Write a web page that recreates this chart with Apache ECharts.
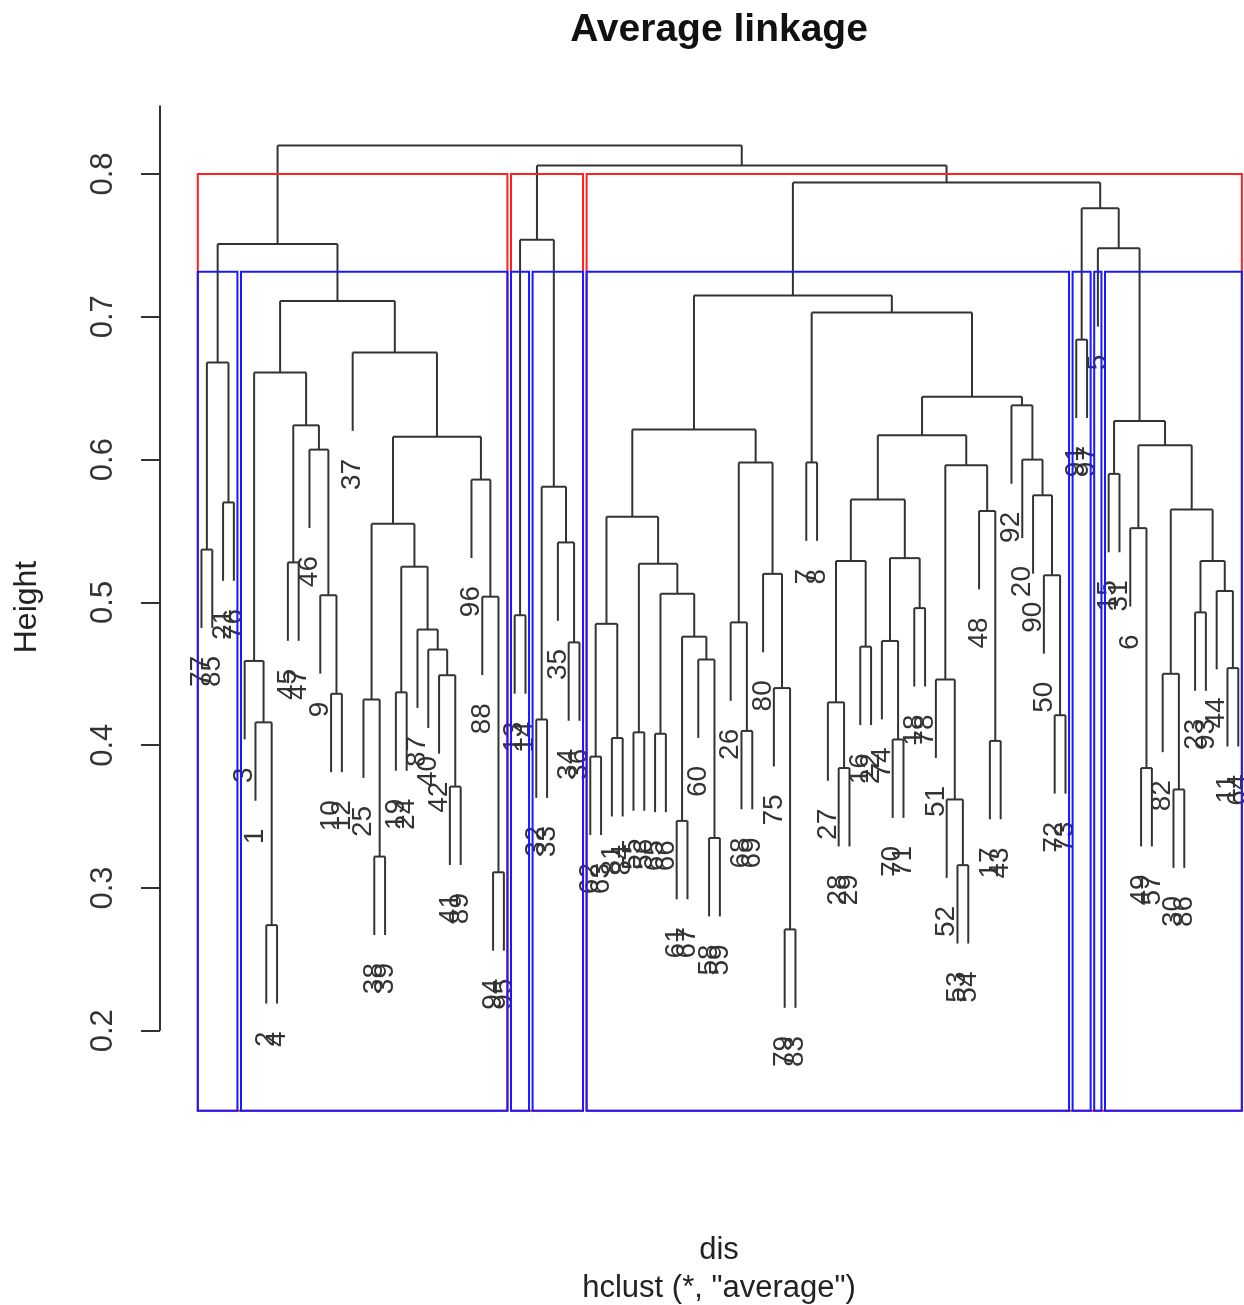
<!DOCTYPE html>
<html><head><meta charset="utf-8">
<script src="https://cdn.jsdelivr.net/npm/echarts@6/dist/echarts.min.js"></script>
<style>html,body{margin:0;padding:0;background:#fff}#c{width:1244px;height:1305px}</style>
</head><body><div id="c"></div>
<script>
// ---- data: leaf labels in dendrogram order ----
const leafLabels = [77,85,21,76,3,1,2,4,45,47,46,9,10,12,37,25,38,39,19,24,87,40,42,41,89,96,88,94,95,13,14,32,33,35,34,36,
62,63,81,84,55,56,65,66,61,67,60,58,59,26,68,69,80,75,79,83,
7,8,27,28,29,16,22,74,70,71,18,78,51,52,53,54,48,17,43,92,20,90,50,72,73,
91,97,5,15,31,6,49,57,82,30,86,23,93,44,11,64];

// merge table (negative = leaf position, positive = earlier merge row)
const merges = [
 [-1,-2],[-3,-4],[1,2],[-7,-8],[-6,4],[-5,5],[-9,-10],[-13,-14],[-12,8],[-11,9],
 [7,10],[6,11],[-17,-18],[-16,13],[-19,-20],[-24,-25],[-23,16],[-22,17],[-21,18],[15,19],
 [14,20],[-28,-29],[-27,22],[-26,23],[21,24],[-15,25],[12,26],[3,27],[-30,-31],[-32,-33],
 [-35,-36],[-34,31],[30,32],[29,33],[-37,-38],[-39,-40],[35,36],[-41,-42],[-43,-44],[-45,-46],
 [-48,-49],[-47,41],[40,42],[39,43],[38,44],[37,45],[-51,-52],[-50,47],[-55,-56],[-54,49],
 [-53,50],[48,51],[46,52],[-57,-58],[-60,-61],[-59,55],[-62,-63],[56,57],[-65,-66],[-64,59],
 [-67,-68],[60,61],[58,62],[-71,-72],[-70,64],[-69,65],[-74,-75],[-73,67],[66,68],[63,69],
 [-80,-81],[-79,71],[-78,72],[-77,73],[-76,74],[70,75],[54,76],[53,77],[-82,-83],[-85,-86],
 [-88,-89],[-87,81],[-91,-92],[-90,83],[-93,-94],[-96,-97],[-95,86],[85,87],[84,88],[82,89],
 [80,90],[-84,91],[79,92],[78,93],[34,94],[28,95]
];
// merge heights
const heights = [
 0.537,0.570,0.668,0.274,0.416,0.459,0.528,0.436,0.505,0.607,
 0.624,0.661,0.322,0.432,0.437,0.371,0.449,0.467,0.481,0.525,
 0.555,0.311,0.504,0.586,0.616,0.675,0.711,0.751,0.491,0.418,
 0.472,0.542,0.581,0.754,0.392,0.405,0.485,0.409,0.408,0.347,
 0.335,0.460,0.476,0.506,0.527,0.560,0.410,0.486,0.271,0.440,
 0.520,0.598,0.621,0.598,0.384,0.430,0.469,0.529,0.404,0.473,
 0.496,0.531,0.572,0.316,0.362,0.446,0.403,0.564,0.596,0.617,
 0.421,0.519,0.575,0.600,0.638,0.644,0.703,0.715,0.684,0.590,
 0.384,0.552,0.369,0.450,0.493,0.454,0.508,0.529,0.565,0.610,
 0.627,0.748,0.776,0.794,0.806,0.820
];
const yTicks = [0.2,0.3,0.4,0.5,0.6,0.7,0.8];
const kRed = 3, kBlue = 8;
const plotBottom = 0.144;   // lower edge of the plot region (par("usr")[3])
const axisTop = 0.848;      // upper end of the drawn y-axis line

// ---- layout of the dendrogram (R plot.hclust style) ----
const hang = 0.1 * (Math.max(...heights) - Math.min(...heights));
const nodeX = [];
function xOf(c){ return c < 0 ? -c : nodeX[c-1]; }
merges.forEach((m,i)=>{ nodeX[i] = (xOf(m[0]) + xOf(m[1]))/2; });
const segs = [];       // [x1,y1,x2,y2]
const leafEnds = [];   // [x, y, label]
merges.forEach((m,i)=>{
  const h = heights[i];
  segs.push([xOf(m[0]), h, xOf(m[1]), h]);
  m.forEach(c=>{
    const x = xOf(c);
    const yb = c < 0 ? h - hang : heights[c-1];
    segs.push([x, h, x, yb]);
    if (c < 0) leafEnds.push([x, h - hang, leafLabels[-c-1]]);
  });
});
// rect.hclust boxes
function cutBoxes(k){
  const sorted = heights.slice().sort((a,b)=>b-a);
  const top = (sorted[k-2] + sorted[k-1]) / 2;
  const out = [];
  function leafRange(c){
    if (c < 0) return [-c,-c];
    const a = leafRange(merges[c-1][0]), b = leafRange(merges[c-1][1]);
    return [Math.min(a[0],b[0]), Math.max(a[1],b[1])];
  }
  function walk(c){
    if (c > 0 && heights[c-1] > top){ walk(merges[c-1][0]); walk(merges[c-1][1]); }
    else { const r = leafRange(c); out.push([r[0]-0.34, r[1]+0.33, top, plotBottom]); }
  }
  walk(merges.length);
  return out;
}
const redBoxes = cutBoxes(kRed);
const blueBoxes = cutBoxes(kBlue);
const X_MIN = -2.84, X_MAX = 97.53;
const axisSeg = [[X_MIN, yTicks[0], X_MIN, axisTop]];

const FONT = '"Liberation Sans", Arial, Helvetica, sans-serif';
const chart = echarts.init(document.getElementById('c'), null, {renderer:'canvas'});

function lineItem(color, width){
  return function(params, api){
    const p1 = api.coord([api.value(0), api.value(1)]);
    const p2 = api.coord([api.value(2), api.value(3)]);
    return {type:'line', shape:{x1:p1[0],y1:p1[1],x2:p2[0],y2:p2[1]},
            style:{stroke:color, lineWidth:width}};
  };
}
function boxItem(color){
  return function(params, api){
    const a = api.coord([api.value(0), api.value(2)]);
    const b = api.coord([api.value(1), api.value(3)]);
    return {type:'rect', shape:{x:a[0], y:a[1], width:b[0]-a[0], height:b[1]-a[1]},
            style:{stroke:color, fill:'none', lineWidth:2}};
  };
}

chart.setOption({
  animation:false,
  backgroundColor:'#ffffff',
  grid:{left:160, right:0, top:31.2, height:1142.4, containLabel:false},
  xAxis:{type:'value', min:X_MIN, max:X_MAX, show:false},
  yAxis:{type:'value', min:0.1, max:0.9, interval:0.1,
    splitLine:{show:false}, axisLine:{show:false, onZero:false},
    axisTick:{show:true, customValues:yTicks, length:19, lineStyle:{color:'#333', width:2}},
    axisLabel:{show:true, customValues:yTicks, rotate:90, margin:41, fontSize:31,
      fontFamily:FONT, color:'#333', formatter:v=>Number(v).toFixed(1)}
  },
  graphic:[
    {type:'text', x:719, y:30, style:{text:'Average linkage', font:'bold 39px '+FONT, fill:'#111', align:'center', verticalAlign:'middle'}},
    {type:'text', x:719, y:1250, style:{text:'dis', font:'31px '+FONT, fill:'#222', align:'center', verticalAlign:'middle'}},
    {type:'text', x:719, y:1288, style:{text:'hclust (*, "average")', font:'31px '+FONT, fill:'#222', align:'center', verticalAlign:'middle'}},
    {type:'text', x:27, y:607, rotation:Math.PI/2, style:{text:'Height', font:'32px '+FONT, fill:'#222', align:'center', verticalAlign:'middle'}}
  ],
  series:[
    {type:'custom', name:'axis', data:axisSeg, renderItem:lineItem('#333',2), silent:true},
    {type:'custom', name:'tree', data:segs, renderItem:lineItem('#333',2), silent:true},
    {type:'custom', name:'labels', data:leafEnds, silent:true,
      renderItem:function(params, api){
        const p = api.coord([api.value(0), api.value(1)]);
        return {type:'text', x:p[0], y:p[1]+28, rotation:Math.PI/2,
          style:{text:String(leafEnds[params.dataIndex][2]), font:'28px '+FONT, fill:'#333', align:'right', verticalAlign:'middle'}};
      }},
    {type:'custom', name:'red', data:redBoxes, renderItem:boxItem('#ff2020'), silent:true},
    {type:'custom', name:'blue', data:blueBoxes, renderItem:boxItem('#1a1aff'), silent:true}
  ]
});
</script></body></html>
